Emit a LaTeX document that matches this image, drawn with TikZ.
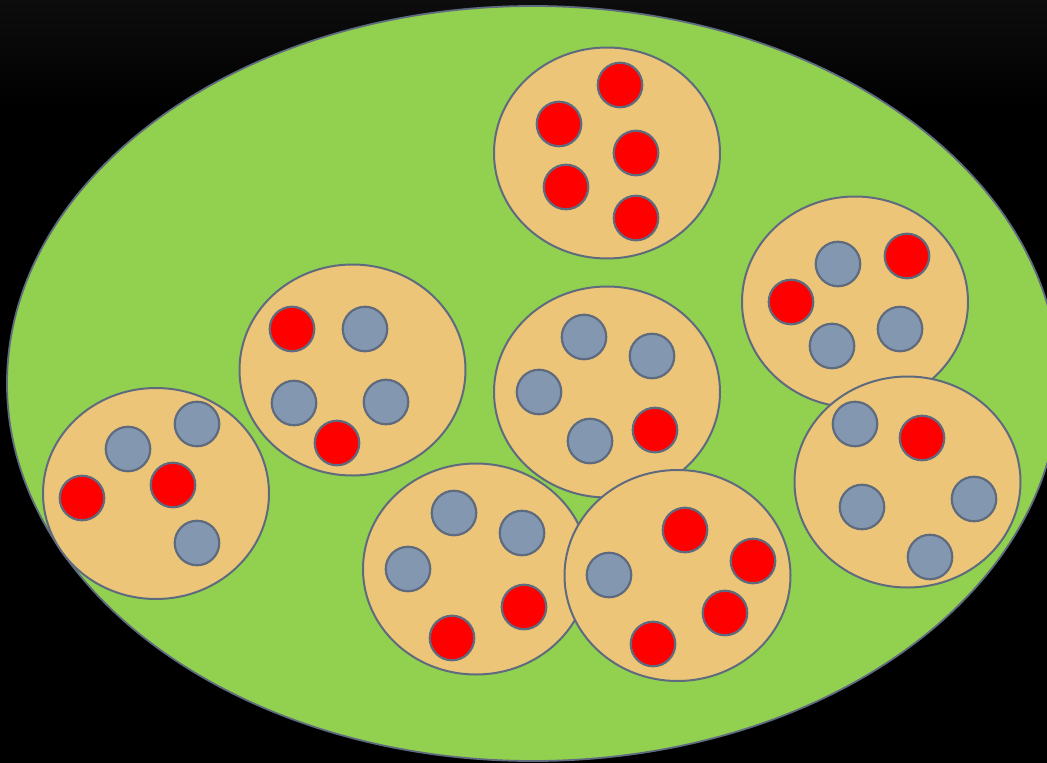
\documentclass[tikz,border=0pt]{standalone}
\usetikzlibrary{shapes.geometric}
\definecolor{field}{HTML}{92D050}
\definecolor{plate}{HTML}{EDC578}
\definecolor{edge}{HTML}{5E6B7E}
\definecolor{hot}{HTML}{FF0000}
\definecolor{cold}{HTML}{8497B0}
\tikzset{
  every node/.style={inner sep=0pt, outer sep=0pt},
  platebox/.style={ellipse, draw=edge, line width=2pt, fill=plate,
    minimum width=226pt, minimum height=211pt},
  hotdot/.style={circle, draw=edge, line width=2.2pt, fill=hot, minimum size=44.5pt},
  colddot/.style={circle, draw=edge, line width=2.2pt, fill=cold, minimum size=44.5pt},
}
\begin{document}
\begin{tikzpicture}[x=1pt,y=-1pt]
\useasboundingbox (0,0) rectangle (1047,763);
\clip (0,0) rectangle (1047,763);
% backdrop: black with a faint grey band at the top
\fill[black] (0,0) rectangle (1047,763);
\shade[top color=black!95!white, bottom color=black] (0,0) rectangle (1047,110);
% the whole field
\node[ellipse, draw=edge, line width=1.8pt, fill=field,
  minimum width=1052pt, minimum height=755pt] (field) at (533,383.5) {};

% plate 1 (top)
\node[platebox] (p1) at (607,153) {};
\node[hotdot] (p1a) at (620,85) {};
\node[hotdot] (p1b) at (559,124) {};
\node[hotdot] (p1c) at (636,153) {};
\node[hotdot] (p1d) at (566,187) {};
\node[hotdot] (p1e) at (636,218) {};

% plate 2 (upper right)
\node[platebox] (p2) at (855,302) {};
\node[colddot] (p2a) at (838,264) {};
\node[hotdot] (p2b) at (907,256) {};
\node[hotdot] (p2c) at (791,302) {};
\node[colddot] (p2d) at (900,329) {};
\node[colddot] (p2e) at (832,346) {};

% plate 3 (middle left)
\node[platebox] (p3) at (352.5,370) {};
\node[hotdot] (p3a) at (292,329) {};
\node[colddot] (p3b) at (365,329) {};
\node[colddot] (p3c) at (294,403) {};
\node[colddot] (p3d) at (386,402) {};
\node[hotdot] (p3e) at (337,443) {};

% plate 4 (centre)
\node[platebox] (p4) at (607,392) {};
\node[colddot] (p4a) at (584,337) {};
\node[colddot] (p4b) at (652,356) {};
\node[colddot] (p4c) at (539,392) {};
\node[hotdot] (p4d) at (655,430) {};
\node[colddot] (p4e) at (590,441) {};

% plate 5 (lower right)
\node[platebox] (p5) at (907.5,482) {};
\node[colddot] (p5a) at (855,424) {};
\node[hotdot] (p5b) at (922,438) {};
\node[colddot] (p5c) at (974,499) {};
\node[colddot] (p5d) at (862,507) {};
\node[colddot] (p5e) at (930,557) {};

% plate 6 (left)
\node[platebox] (p6) at (156,493.5) {};
\node[colddot] (p6a) at (197,424) {};
\node[colddot] (p6b) at (128,449) {};
\node[hotdot] (p6c) at (173,485) {};
\node[hotdot] (p6d) at (82,498) {};
\node[colddot] (p6e) at (197,543) {};

% plate 7 (bottom, left of centre)
\node[platebox] (p7) at (476,569) {};
\node[colddot] (p7a) at (454,513) {};
\node[colddot] (p7b) at (522,533) {};
\node[colddot] (p7c) at (408,569) {};
\node[hotdot] (p7d) at (524,607) {};
\node[hotdot] (p7e) at (452,638) {};

% plate 8 (bottom, right of centre)
\node[platebox] (p8) at (677.5,575.5) {};
\node[hotdot] (p8a) at (685,530) {};
\node[hotdot] (p8b) at (753,561) {};
\node[colddot] (p8c) at (609,575) {};
\node[hotdot] (p8d) at (725,613) {};
\node[hotdot] (p8e) at (653,644) {};
\end{tikzpicture}
\end{document}
